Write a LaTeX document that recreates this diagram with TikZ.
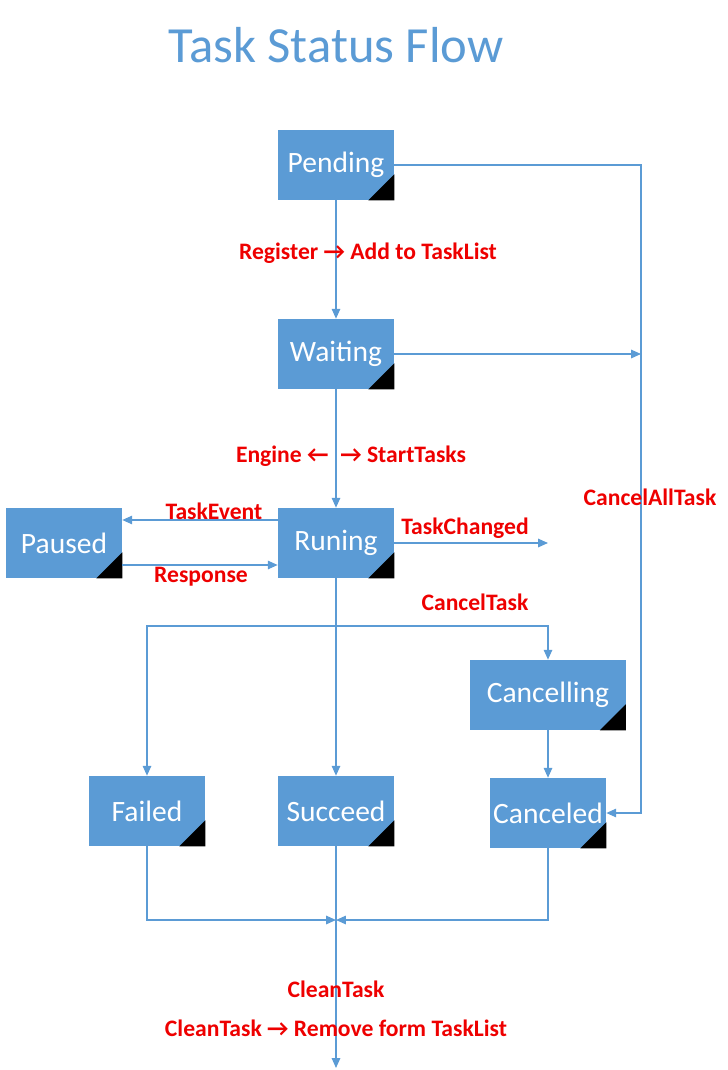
\documentclass[tikz,border=0pt]{standalone}
\usepackage{fontspec}
\setmainfont{Carlito}
\usetikzlibrary{arrows.meta}
\definecolor{boxblue}{HTML}{5B9BD5}
\definecolor{labred}{HTML}{EE0000}
\tikzset{
  state/.style={fill=boxblue, text=white, minimum width=2.9cm, minimum height=1.75cm,
    inner sep=0pt, font=\fontsize{21}{25}\selectfont},
  flow/.style={draw=boxblue, line width=1pt, -{Triangle[length=7pt,width=6pt]}},
  lab/.style={text=labred, font=\bfseries\fontsize{16.8}{20}\selectfont, inner sep=1pt},
}
\begin{document}
\begin{tikzpicture}[x=0.025cm,y=-0.025cm]
  \useasboundingbox (0,0) rectangle (728,1070);
  %Title
  \node[text=boxblue, font=\fontsize{36}{42}\selectfont] (title) at (336,45) {Task Status Flow};
  %States
  \node[state] (pend) at (336,165) {Pending};
  \node[state] (wait) at (336,354) {Waiting};
  \node[state] (run) at (336,543) {Runing};
  \node[state] (paus) at (64,543) {Paused};
  \node[state, minimum width=3.875cm] (cing) at (548,695) {Cancelling};
  \node[state] (fail) at (147,811) {Failed};
  \node[state] (succ) at (336,811) {Succeed};
  \node[state] (cned) at (548,813) {Canceled};
  %Folded corners
  \foreach \s in {pend,wait,run,paus,cing,fail,succ,cned}
    \fill[black] (\s.south east) -- ++(-26,0) -- ++(26,-26) -- cycle;
  %Bends and free ends
  \coordinate (ne) at (641,165);
  \coordinate (ewait) at (641,354);
  \coordinate (changed) at (548,543);
  \coordinate (split) at (336,626);
  \coordinate (merge) at (336,920);
  \coordinate (out) at (336,1068);
  %Main flow
  \draw[flow] (pend) -- (wait);
  \draw[flow] (wait) -- (run);
  \draw[flow] (run) -- (succ);
  \draw[flow] (succ) -- (out);
  %Pause and events
  \draw[flow] ([yshift=0.575cm]run.west) -- ([yshift=0.575cm]paus.east);
  \draw[flow] ([yshift=-0.55cm]paus.east) -- ([yshift=-0.55cm]run.west);
  \draw[flow] (run.east) -- (changed);
  %Cancel
  \draw[flow] (pend.east) -- (ne) |- (cned.east);
  \draw[flow] (wait.east) -- (ewait);
  \draw[flow] (split) -| (fail.north);
  \draw[flow] (split) -| (cing.north);
  \draw[flow] (cing) -- (cned);
  %Clean
  \draw[flow] (fail.south) |- (merge);
  \draw[flow] (cned.south) |- (merge);
  %Labels
  \node[lab] (lreg) at (368,253) {Register → Add to TaskList};
  \node[lab] (leng) at (351,456) {Engine ←\hspace{0.5em}→ StartTasks};
  \node[lab] (lev) at (214,511) {TaskEvent};
  \node[lab] (lresp) at (201,577) {Response};
  \node[lab] (lchg) at (465,528) {TaskChanged};
  \node[lab] (lcan) at (475,602) {CancelTask};
  \node[lab] (lall) at (650,497) {CancelAllTask};
  \node[lab] (lclean) at (336,989) {CleanTask};
  \node[lab] (lrem) at (336,1028) {CleanTask → Remove form TaskList};
\end{tikzpicture}
\end{document}
